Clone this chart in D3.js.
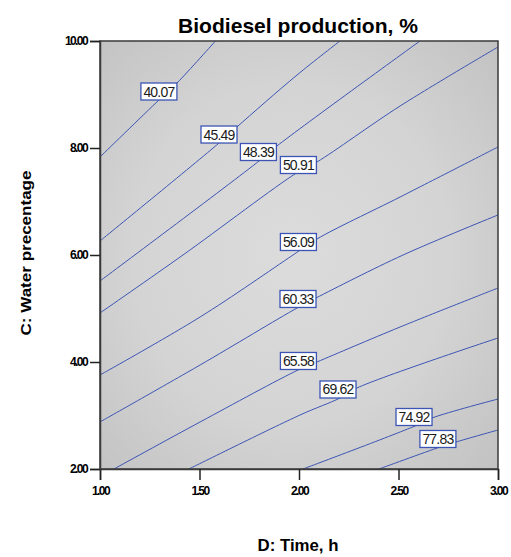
<!DOCTYPE html>
<html>
<head>
<meta charset="utf-8">
<script src="https://cdn.jsdelivr.net/npm/d3@7/dist/d3.min.js"></script>
<style>
  body { margin: 0; background: #fff; }
  text { font-family: "Liberation Sans", Arial, sans-serif; }
</style>
</head>
<body>
<div class="chart"></div>
<script>
// contour levels
var levels = [40.07, 45.49, 48.39, 50.91, 56.09, 60.33, 65.58, 69.62, 74.92, 77.83];

// traced contour lines, [time, water] pairs
var line4007 = [[1.0, 7.832], [1.296, 8.897], [1.387, 9.215], [1.58, 10.0]];
var line4549 = [[1.0, 6.262], [1.598, 8.093], [1.688, 8.393], [1.990, 9.364], [2.206, 10.0]];
var line4839 = [[1.0, 5.514], [1.799, 7.757], [1.889, 8.037], [2.608, 10.0]];
var line5091 = [[1.0, 4.916], [1.417, 6.0], [1.995, 7.551], [2.090, 7.738], [2.508, 8.785], [3.0, 9.888]];
var line5609 = [[1.0, 3.757], [1.503, 4.841], [1.970, 6.0], [2.090, 6.299], [2.508, 7.084], [3.0, 8.019]];
var line6033 = [[1.0, 2.879], [1.503, 3.944], [1.990, 5.009], [2.085, 5.196], [2.523, 6.0], [3.0, 6.748]];
var line6558 = [[1.070, 2.0], [1.503, 2.879], [1.995, 3.850], [2.090, 4.0], [2.508, 4.654], [3.0, 5.383]];
var line6962 = [[1.447, 2.0], [2.005, 3.009], [2.206, 3.327], [2.291, 3.514], [3.0, 4.449]];
var line7492 = [[2.020, 2.0], [2.583, 2.804], [2.668, 2.953], [3.0, 3.308]];
var line7783 = [[2.402, 2.0], [2.709, 2.411], [2.789, 2.505], [3.0, 2.729]];
var contourLines = [line4007, line4549, line4839, line5091, line5609, line6033, line6558, line6962, line7492, line7783];

// where each level label sits
var labelPos = [[1.296, 9.056], [1.598, 8.252], [1.796, 7.925], [1.997, 7.682], [1.997, 6.243],
                [1.995, 5.178], [1.997, 4.019], [2.196, 3.486], [2.578, 2.972], [2.698, 2.561]];

var xTicks = [1.0, 1.5, 2.0, 2.5, 3.0];
var yTicks = [2.0, 4.0, 6.0, 8.0, 10.0];

var margin = {top: 41, right: 13, bottom: 88, left: 100},
    width = 511 - margin.left - margin.right,
    height = 557 - margin.top - margin.bottom;

var blue = "#3c55b5";

var x = d3.scaleLinear().domain([1, 3]).range([0, width]);
var y = d3.scaleLinear().domain([2, 10]).range([height, 0]);

var svgRoot = d3.select(".chart").append("svg")
    .attr("width", 511)
    .attr("height", 557);

var defs = svgRoot.append("defs");
var grad = defs.append("radialGradient")
    .attr("id", "bg")
    .attr("cx", "0.48").attr("cy", "0.5").attr("r", "0.72");
grad.append("stop").attr("offset", "0%").attr("stop-color", "#dcdcdc");
grad.append("stop").attr("offset", "55%").attr("stop-color", "#d4d4d4");
grad.append("stop").attr("offset", "100%").attr("stop-color", "#c2c2c2");

var svg = svgRoot.append("g")
    .attr("transform", "translate(" + margin.left + "," + margin.top + ")");

// shaded plot area
svg.append("rect")
    .attr("width", width)
    .attr("height", height)
    .attr("fill", "url(#bg)");

// contour lines
var contour = d3.line()
    .x(function(d) { return x(d[0]); })
    .y(function(d) { return y(d[1]); })
    .curve(d3.curveCatmullRom.alpha(0.5));

svg.selectAll(".contour")
    .data(contourLines)
  .enter().append("path")
    .attr("class", "contour")
    .attr("d", contour)
    .attr("fill", "none")
    .attr("stroke", blue)
    .attr("stroke-width", 1);

// level labels
var lab = svg.selectAll(".lab")
    .data(levels)
  .enter().append("g")
    .attr("class", "lab")
    .attr("transform", function(d, i) {
      return "translate(" + x(labelPos[i][0]) + "," + y(labelPos[i][1]) + ")";
    });

lab.append("rect")
    .attr("x", -18).attr("y", -8.5)
    .attr("width", 36).attr("height", 17)
    .attr("fill", "#fff")
    .attr("stroke", blue)
    .attr("stroke-width", 1.3);

lab.append("text")
    .attr("text-anchor", "middle")
    .attr("y", 5)
    .attr("font-size", "14px")
    .attr("letter-spacing", "-0.8px")
    .attr("fill", "#1a1a1a")
    .text(function(d) { return d3.format(".2f")(d); });

// frame
svg.append("rect")
    .attr("width", width)
    .attr("height", height)
    .attr("fill", "none")
    .attr("stroke", "#3a3a3a")
    .attr("stroke-width", 1.5);

// axes
var xAxis = svg.append("g")
    .attr("transform", "translate(0," + height + ")")
    .call(d3.axisBottom(x).tickValues(xTicks).tickSize(11).tickPadding(6)
      .tickFormat(d3.format(".2f")));

var yAxis = svg.append("g")
    .call(d3.axisLeft(y).tickValues(yTicks).tickSize(10).tickPadding(3)
      .tickFormat(d3.format(".2f")));

[xAxis, yAxis].forEach(function(a) {
  a.select(".domain").attr("stroke", "#3a3a3a").attr("stroke-width", 1.5);
  a.selectAll(".tick line").attr("stroke", "#222").attr("stroke-width", 1.5);
  a.selectAll(".tick text")
    .attr("font-family", "'Liberation Sans', Arial, sans-serif")
    .attr("font-size", "12px")
    .attr("font-weight", "bold")
    .attr("letter-spacing", "-1.6px")
    .attr("fill", "#000");
});

// title and axis titles
svgRoot.append("text")
    .attr("x", 298).attr("y", 33)
    .attr("text-anchor", "middle")
    .attr("font-size", "21px")
    .attr("font-weight", "bold")
    .attr("textLength", 240)
    .attr("lengthAdjust", "spacingAndGlyphs")
    .text("Biodiesel production, %");

svgRoot.append("text")
    .attr("x", 298).attr("y", 551)
    .attr("text-anchor", "middle")
    .attr("font-size", "17px")
    .attr("font-weight", "bold")
    .attr("textLength", 81)
    .attr("lengthAdjust", "spacingAndGlyphs")
    .text("D: Time, h");

svgRoot.append("text")
    .attr("transform", "translate(31,253) rotate(-90)")
    .attr("text-anchor", "middle")
    .attr("font-size", "15px")
    .attr("font-weight", "bold")
    .attr("textLength", 165)
    .attr("lengthAdjust", "spacingAndGlyphs")
    .text("C: Water precentage");
</script>
</body>
</html>
